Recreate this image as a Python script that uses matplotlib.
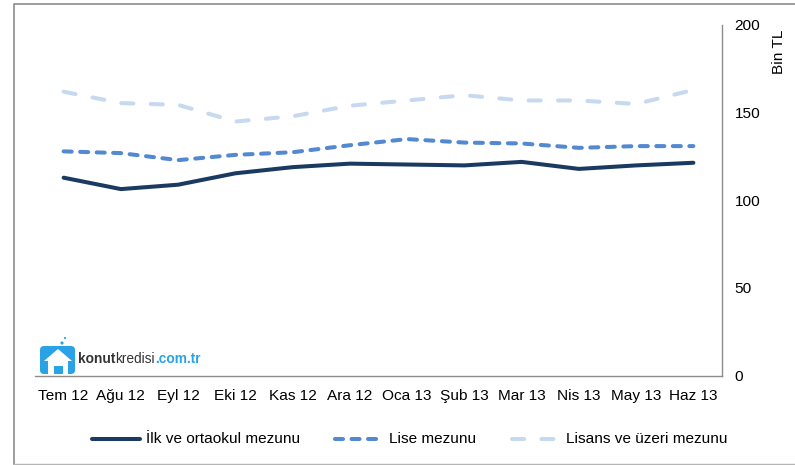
import matplotlib
matplotlib.use('Agg')
from matplotlib import pyplot as plt
from matplotlib.patches import Polygon, Rectangle, FancyBboxPatch, Circle
from matplotlib.transforms import ScaledTranslation

months = ['Tem 12', 'Ağu 12', 'Eyl 12', 'Eki 12', 'Kas 12', 'Ara 12', 'Oca 13', 'Şub 13', 'Mar 13', 'Nis 13', 'May 13', 'Haz 13']
ilk = [113, 106.5, 109, 115.5, 119, 121, 120.5, 120, 122, 118, 120, 121.5]
lise = [128, 127, 123, 126, 127.5, 131.5, 135, 133, 132.5, 130, 131, 131]
lisans = [162, 155.5, 154.5, 145, 148, 154, 157, 160, 157, 157, 155, 163]
yticks = [0, 50, 100, 150, 200]
names = ['İlk ve ortaokul mezunu', 'Lise mezunu', 'Lisans ve üzeri mezunu']

W, H = 795, 465
DARK, MID, LIGHT = '#1b3a62', '#5389d0', '#c6d9f0'
DASH_MID, DASH_LIGHT = (2.0, 2.1), (3.0, 4.3)
plt.rcParams['font.family'] = ['Liberation Sans', 'DejaVu Sans']
plt.rcParams['font.size'] = 11.1

fig = plt.figure(figsize=(W / 100, H / 100), dpi=100, facecolor='white')
ax = fig.add_axes([35 / W, 1 - 376 / H, 687 / W, 351 / H], facecolor='none')

x = range(len(months))
ax.plot(x, ilk, color=DARK, lw=2.9, solid_capstyle='round')
ax.plot(x, lise, color=MID, lw=2.9, dashes=DASH_MID, dash_capstyle='round')
ax.plot(x, lisans, color=LIGHT, lw=2.9, dashes=DASH_LIGHT, dash_capstyle='round')

ax.set_xlim(-0.5, len(months) - 0.5)
ax.set_ylim(0, 200)
ax.set_xticks(list(x))
ax.set_xticklabels(months)
ax.yaxis.tick_right()
ax.set_yticks(yticks)
ax.tick_params(length=0, colors='black')
ax.tick_params(axis='x', pad=9.5)
ax.tick_params(axis='y', pad=9)
# tick labels sit one pixel lower than centre
shift = ScaledTranslation(0, -0.01, fig.dpi_scale_trans)
for lab in ax.get_yticklabels():
    lab.set_verticalalignment('center')
    lab.set_transform(lab.get_transform() + shift)
for s in ['top', 'left']:
    ax.spines[s].set_visible(False)
for s in ['right', 'bottom']:
    ax.spines[s].set_color('#8c8c8c')
    ax.spines[s].set_linewidth(1.0)

fig.text(779 / W, 1 - 52 / H, 'Bin TL', rotation=90, ha='center', va='center')

# outer frame
bg = fig.add_axes([0, 0, 1, 1], zorder=-1)
bg.set_xlim(0, W)
bg.set_ylim(H, 0)
bg.axis('off')
bg.plot([14, 14, 795], [464, 4, 4], color='#8c8c8c', lw=1.2)
bg.plot([14, 795], [464, 464], color='#b5b5b5', lw=1.0)

# legend placed by hand, handles differ in length
bg.plot([92, 140], [439, 439], color=DARK, lw=2.9, solid_capstyle='round')
bg.plot([335, 378], [439, 439], color=MID, lw=2.9, dashes=DASH_MID, dash_capstyle='round')
bg.plot([512, 556], [439, 439], color=LIGHT, lw=2.9, dashes=DASH_LIGHT, dash_capstyle='round')
for lx, name in zip([146, 389, 566], names):
    bg.text(lx, 439, name, va='center', ha='left')

# logo
logo = '#2aa3e6'
bg.add_patch(FancyBboxPatch((40, 346), 35, 28, boxstyle='round,pad=0,rounding_size=4', fc=logo, ec='none'))
bg.add_patch(Polygon([[44, 361], [58, 349], [72, 361], [68, 361], [68, 374], [48, 374], [48, 361]], fc='white', ec='none'))
bg.add_patch(Rectangle((54, 366), 9, 8, fc=logo, ec='none'))
bg.add_patch(Circle((62, 343), 1.6, fc=logo, ec='none'))
bg.add_patch(Circle((65, 338), 1.1, fc=logo, ec='none'))
t = bg.text(78, 359, 'konut', color='#333333', fontsize=9.9, fontweight='bold', va='center', ha='left')
fig.canvas.draw()
e = t.get_window_extent()
t2 = bg.text(e.x1, 359, 'kredisi', color='#333333', fontsize=9.9, va='center', ha='left')
e = t2.get_window_extent()
bg.text(e.x1, 359, '.com.tr', color=logo, fontsize=9.9, fontweight='bold', va='center', ha='left')

fig.savefig('out.png', dpi=100, facecolor='white')
